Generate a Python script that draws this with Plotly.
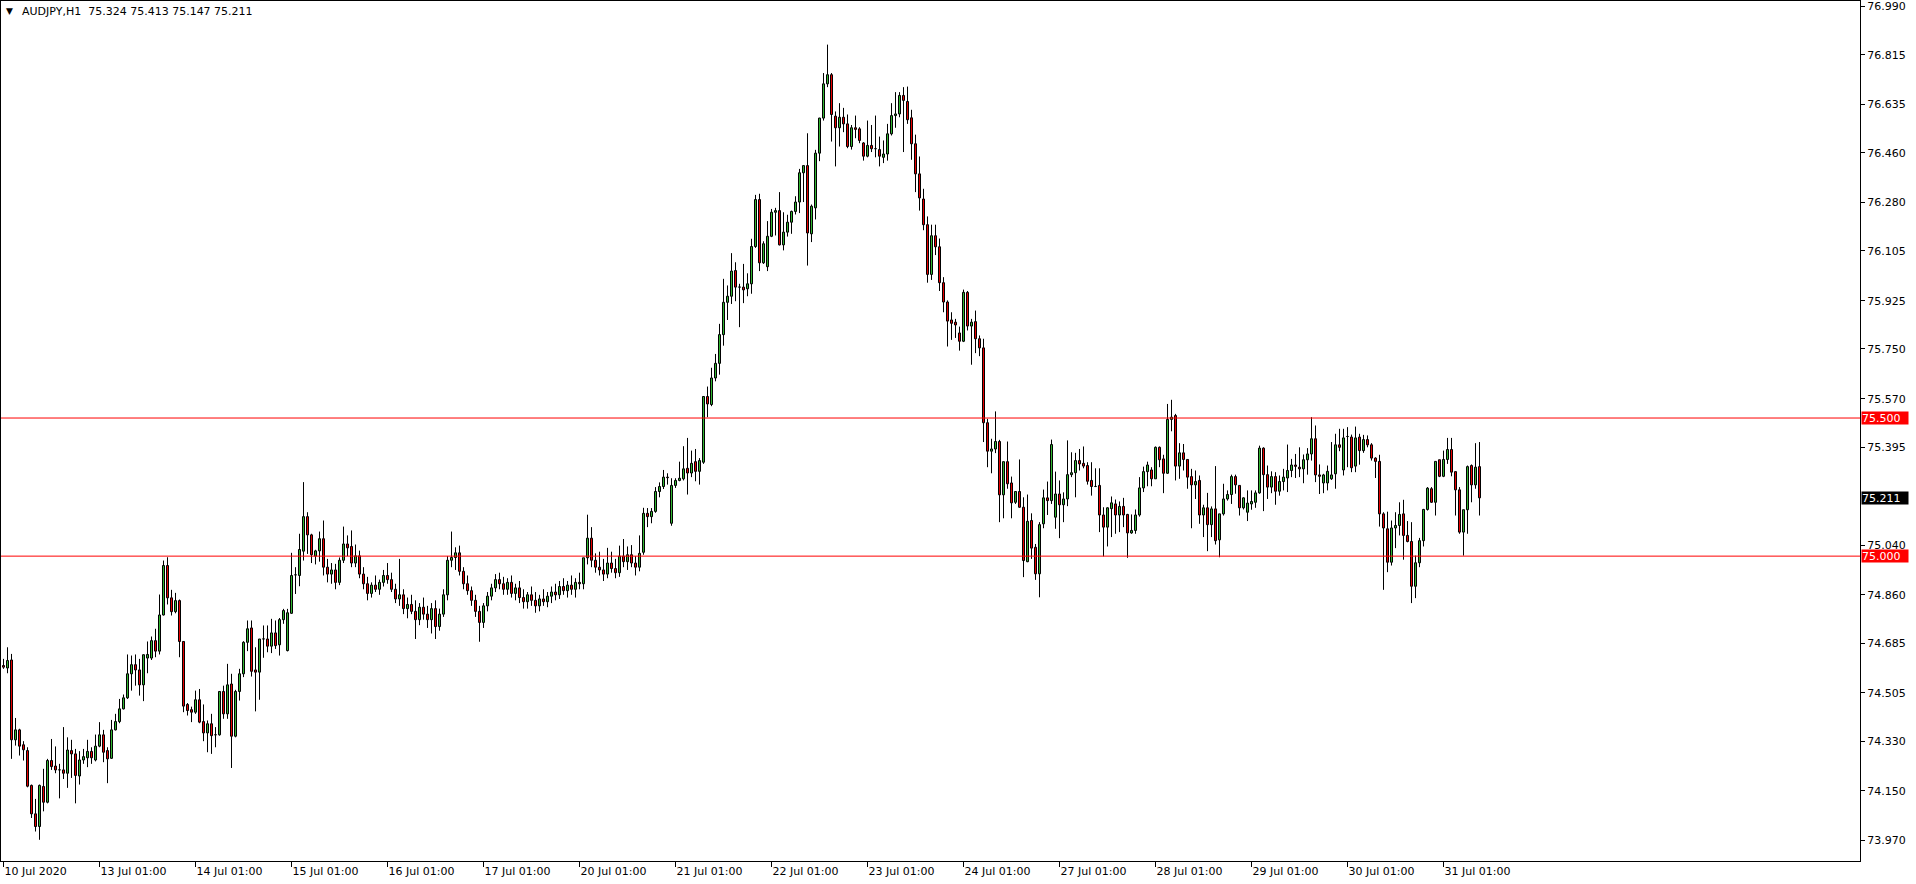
import plotly.graph_objects as go

# ---------------- data (AUDJPY H1) ----------------
opens = [
 74.604,74.595,74.624,74.335,74.371,74.317,74.296,74.170,74.067,74.021,74.166,74.109,74.260,74.240,74.226,74.226,74.214,74.296,74.284,74.204,74.262,74.270,74.293,74.262,
 74.312,74.353,74.296,74.268,74.371,74.401,74.447,74.487,74.574,74.607,74.588,74.534,74.631,74.631,74.694,74.656,74.787,74.966,74.849,74.799,74.839,74.691,74.463,74.444,
 74.435,74.480,74.401,74.360,74.393,74.353,74.353,74.510,74.429,74.537,74.348,74.510,74.574,74.688,74.740,74.588,74.580,74.700,74.700,74.674,74.722,74.679,74.770,74.658,
 74.793,74.932,74.930,75.018,75.143,75.077,75.000,75.019,75.063,74.960,74.935,74.950,74.905,74.985,75.044,75.035,74.975,75.001,74.935,74.900,74.865,74.895,74.880,74.905,
 74.930,74.915,74.880,74.845,74.860,74.810,74.825,74.800,74.770,74.815,74.790,74.770,74.810,74.745,74.790,74.860,74.985,74.995,75.012,74.945,74.900,74.875,74.840,74.800,
 74.760,74.820,74.855,74.885,74.915,74.900,74.880,74.905,74.865,74.885,74.850,74.835,74.860,74.840,74.820,74.845,74.835,74.855,74.870,74.860,74.890,74.875,74.895,74.880,
 74.905,74.900,74.994,75.065,74.985,74.960,74.950,74.935,74.975,74.955,74.940,75.000,74.980,75.005,74.975,74.960,75.014,75.155,75.143,75.162,75.234,75.252,75.286,75.119,
 75.256,75.274,75.280,75.318,75.301,75.342,75.307,75.340,75.578,75.549,75.645,75.698,75.802,75.919,75.941,76.034,75.974,75.974,75.968,75.986,76.121,76.291,76.062,76.048,
 76.158,76.245,76.251,76.127,76.173,76.209,76.248,76.282,76.388,76.414,76.167,76.261,76.459,76.586,76.710,76.743,76.593,76.551,76.589,76.565,76.483,76.551,76.547,76.496,
 76.448,76.487,76.475,76.472,76.444,76.456,76.529,76.595,76.601,76.668,76.646,76.587,76.493,76.384,76.293,76.200,76.020,76.160,76.120,75.990,75.920,75.855,75.847,75.808,
 75.778,75.955,75.833,75.849,75.787,75.754,75.483,75.380,75.388,75.415,75.222,75.342,75.265,75.195,75.234,75.177,74.980,75.129,75.032,74.936,75.117,75.211,75.201,75.141,
 75.225,75.186,75.207,75.295,75.302,75.346,75.336,75.328,75.274,75.252,75.256,75.149,75.105,75.172,75.189,75.149,75.180,75.151,75.084,75.093,75.149,75.247,75.306,75.312,
 75.280,75.394,75.352,75.300,75.495,75.509,75.326,75.374,75.350,75.288,75.258,75.274,75.149,75.175,75.114,75.171,75.059,75.153,75.207,75.223,75.288,75.256,75.175,75.159,
 75.189,75.195,75.229,75.391,75.295,75.250,75.288,75.235,75.270,75.283,75.310,75.330,75.322,75.316,75.349,75.370,75.425,75.294,75.265,75.265,75.280,75.298,75.403,75.312,
 75.433,75.431,75.326,75.431,75.382,75.422,75.403,75.355,75.343,75.153,75.099,74.978,75.102,75.111,75.153,75.075,75.053,74.891,74.976,75.056,75.169,75.244,75.195,75.349,
 75.289,75.350,75.386,75.306,75.240,75.087,75.168,75.328,75.258,75.324,
]
highs = [
 74.628,74.670,74.646,74.414,74.375,74.330,74.308,74.173,74.121,74.173,74.230,74.266,74.338,74.311,74.248,74.381,74.344,74.335,74.302,74.294,74.302,74.335,74.308,74.354,
 74.399,74.371,74.308,74.407,74.429,74.483,74.499,74.644,74.640,74.644,74.628,74.644,74.691,74.709,74.737,74.861,74.984,74.996,74.878,74.867,74.843,74.691,74.468,74.455,
 74.513,74.519,74.463,74.405,74.429,74.381,74.511,74.531,74.610,74.574,74.516,74.592,74.692,74.767,74.767,74.670,74.700,74.749,74.749,74.773,74.767,74.776,74.809,74.809,
 75.012,74.960,75.081,75.268,75.159,75.081,75.023,75.089,75.129,74.990,74.975,74.972,74.995,75.107,75.075,75.093,75.042,75.020,74.960,74.925,74.905,74.930,74.915,74.950,
 74.975,74.940,74.900,74.990,74.880,74.850,74.860,74.840,74.830,74.850,74.820,74.830,74.840,74.810,74.880,75.000,75.089,75.032,75.038,74.960,74.930,74.890,74.860,74.820,
 74.830,74.870,74.900,74.935,74.940,74.925,74.920,74.930,74.900,74.910,74.880,74.870,74.890,74.870,74.860,74.880,74.870,74.890,74.900,74.910,74.920,74.910,74.930,74.920,
 74.940,74.990,75.150,75.105,75.010,75.016,74.990,75.030,75.016,74.990,75.038,75.062,75.035,75.040,75.000,75.075,75.175,75.174,75.174,75.250,75.267,75.312,75.300,75.282,
 75.282,75.342,75.398,75.428,75.382,75.388,75.355,75.578,75.614,75.682,75.732,75.841,76.004,75.980,76.097,76.064,75.986,76.058,76.024,76.149,76.308,76.312,76.140,76.213,
 76.257,76.261,76.318,76.245,76.236,76.251,76.303,76.402,76.414,76.531,76.273,76.471,76.587,76.749,76.852,76.749,76.610,76.640,76.623,76.599,76.561,76.595,76.553,76.499,
 76.577,76.561,76.595,76.519,76.505,76.565,76.640,76.680,76.680,76.698,76.700,76.616,76.526,76.447,76.330,76.230,76.200,76.200,76.150,76.010,75.926,75.883,75.859,75.831,
 75.965,75.960,75.859,75.889,75.799,75.787,75.497,75.425,75.524,75.421,75.342,75.415,75.288,75.234,75.350,75.213,75.223,75.155,75.044,75.123,75.241,75.270,75.422,75.306,
 75.274,75.231,75.419,75.376,75.374,75.388,75.397,75.340,75.340,75.318,75.318,75.177,75.177,75.216,75.205,75.198,75.211,75.153,75.151,75.169,75.286,75.324,75.342,75.322,
 75.397,75.397,75.367,75.551,75.566,75.515,75.409,75.406,75.350,75.316,75.310,75.292,75.186,75.229,75.180,75.326,75.153,75.262,75.238,75.295,75.295,75.256,75.213,75.238,
 75.238,75.238,75.400,75.394,75.328,75.307,75.304,75.292,75.316,75.404,75.352,75.370,75.394,75.368,75.391,75.503,75.473,75.332,75.298,75.328,75.413,75.443,75.461,75.461,
 75.467,75.440,75.469,75.443,75.439,75.437,75.409,75.358,75.367,75.159,75.161,75.129,75.159,75.195,75.204,75.127,75.123,75.002,75.066,75.171,75.250,75.250,75.343,75.349,
 75.382,75.428,75.428,75.306,75.250,75.168,75.328,75.332,75.409,75.413,
]
lows = [
 74.592,74.576,74.266,74.314,74.278,74.260,74.163,74.052,74.003,73.973,74.076,74.105,74.226,74.214,74.123,74.193,74.161,74.197,74.105,74.173,74.248,74.236,74.248,74.257,
 74.308,74.254,74.178,74.266,74.369,74.395,74.445,74.483,74.513,74.531,74.495,74.475,74.576,74.624,74.634,74.644,74.785,74.825,74.785,74.793,74.634,74.435,74.423,74.399,
 74.429,74.395,74.330,74.290,74.284,74.308,74.350,74.411,74.411,74.233,74.344,74.477,74.562,74.656,74.564,74.438,74.480,74.632,74.652,74.649,74.664,74.640,74.755,74.655,
 74.791,74.863,74.891,74.984,75.008,74.975,74.970,74.980,74.930,74.905,74.900,74.880,74.895,74.975,75.000,74.960,74.960,74.920,74.880,74.840,74.850,74.870,74.860,74.890,
 74.900,74.870,74.830,74.820,74.790,74.775,74.790,74.700,74.750,74.770,74.740,74.720,74.700,74.730,74.780,74.840,74.960,74.950,74.930,74.880,74.860,74.820,74.780,74.690,
 74.740,74.800,74.840,74.870,74.880,74.860,74.860,74.850,74.840,74.830,74.810,74.810,74.820,74.795,74.800,74.820,74.815,74.830,74.840,74.845,74.860,74.850,74.860,74.850,
 74.880,74.880,74.970,74.960,74.940,74.930,74.910,74.920,74.940,74.920,74.925,74.960,74.950,74.960,74.930,74.945,75.005,75.105,75.119,75.157,75.213,75.243,75.259,75.110,
 75.247,75.271,75.274,75.223,75.286,75.271,75.259,75.334,75.503,75.543,75.633,75.657,75.762,75.855,75.913,75.923,75.829,75.916,75.941,75.950,76.116,76.032,76.058,76.032,
 76.155,76.161,76.125,76.107,76.157,76.167,76.237,76.242,76.282,76.052,76.137,76.219,76.430,76.577,76.698,76.501,76.411,76.483,76.535,76.477,76.472,76.513,76.495,76.432,
 76.444,76.463,76.444,76.411,76.423,76.432,76.523,76.551,76.589,76.463,76.565,76.435,76.318,76.251,76.180,75.990,76.000,76.090,75.960,75.883,75.759,75.783,75.790,75.744,
 75.775,75.817,75.693,75.735,75.724,75.413,75.322,75.300,75.373,75.123,75.137,75.244,75.137,75.189,75.175,74.924,74.978,74.990,74.914,74.851,75.101,75.149,75.189,75.099,
 75.065,75.123,75.181,75.286,75.213,75.310,75.318,75.259,75.219,75.250,75.087,74.999,75.035,75.069,75.081,75.087,75.105,74.994,75.081,75.081,75.143,75.232,75.253,75.253,
 75.280,75.322,75.228,75.298,75.452,75.274,75.280,75.310,75.244,75.101,75.207,75.117,75.069,75.018,75.069,75.042,74.996,75.147,75.201,75.189,75.226,75.147,75.169,75.127,
 75.168,75.175,75.226,75.163,75.207,75.228,75.186,75.219,75.238,75.232,75.286,75.283,75.286,75.264,75.295,75.346,75.268,75.225,75.228,75.238,75.276,75.244,75.380,75.292,
 75.322,75.304,75.304,75.331,75.374,75.394,75.346,75.283,75.107,74.878,74.942,74.966,75.029,75.075,74.987,75.050,74.830,74.848,74.960,75.035,75.165,75.193,75.147,75.286,
 75.286,75.334,75.289,75.147,75.081,75.002,75.081,75.195,75.244,75.147,
]
closes = [
 74.598,74.622,74.335,74.371,74.312,74.299,74.167,74.067,74.021,74.170,74.109,74.260,74.238,74.226,74.226,74.214,74.298,74.284,74.206,74.262,74.274,74.293,74.270,74.312,
 74.353,74.290,74.266,74.371,74.401,74.447,74.487,74.574,74.607,74.588,74.534,74.643,74.644,74.694,74.656,74.787,74.966,74.849,74.799,74.839,74.691,74.457,74.441,74.435,
 74.480,74.399,74.360,74.393,74.350,74.353,74.510,74.429,74.534,74.348,74.510,74.574,74.688,74.737,74.583,74.580,74.700,74.700,74.674,74.722,74.676,74.770,74.803,74.795,
 74.930,74.932,75.024,75.143,75.077,75.005,75.019,75.063,74.960,74.935,74.950,74.905,74.985,75.044,75.030,74.975,75.001,74.935,74.900,74.865,74.895,74.880,74.905,74.930,
 74.915,74.880,74.845,74.860,74.810,74.825,74.800,74.770,74.815,74.790,74.770,74.810,74.745,74.790,74.860,74.985,74.995,75.012,74.945,74.900,74.875,74.840,74.800,74.760,
 74.820,74.855,74.885,74.915,74.900,74.880,74.905,74.865,74.885,74.850,74.835,74.860,74.840,74.820,74.845,74.835,74.855,74.870,74.860,74.890,74.875,74.895,74.880,74.905,
 74.900,74.994,75.065,74.985,74.960,74.950,74.935,74.975,74.955,74.940,75.000,74.980,75.005,74.975,74.960,75.010,75.155,75.143,75.162,75.234,75.252,75.286,75.284,75.256,
 75.274,75.282,75.316,75.301,75.336,75.307,75.346,75.578,75.551,75.645,75.698,75.802,75.919,75.941,76.032,75.974,75.974,75.964,75.986,76.121,76.291,76.062,76.131,76.158,
 76.245,76.251,76.127,76.173,76.209,76.248,76.282,76.388,76.414,76.170,76.267,76.459,76.586,76.710,76.743,76.599,76.551,76.589,76.565,76.483,76.551,76.545,76.505,76.448,
 76.487,76.475,76.475,76.448,76.456,76.529,76.595,76.601,76.668,76.650,76.580,76.493,76.384,76.297,76.200,76.020,76.160,76.120,75.990,75.920,75.851,75.843,75.837,75.778,
 75.955,75.833,75.847,75.787,75.754,75.483,75.380,75.388,75.415,75.222,75.342,75.262,75.193,75.234,75.177,74.984,75.126,75.029,74.936,75.114,75.211,75.201,75.404,75.225,
 75.186,75.207,75.295,75.302,75.346,75.334,75.326,75.271,75.252,75.252,75.149,75.105,75.175,75.193,75.149,75.180,75.149,75.084,75.093,75.149,75.247,75.306,75.330,75.280,
 75.394,75.349,75.300,75.495,75.503,75.326,75.374,75.350,75.286,75.258,75.270,75.149,75.175,75.114,75.171,75.056,75.153,75.207,75.223,75.288,75.258,75.175,75.211,75.192,
 75.198,75.229,75.391,75.295,75.250,75.288,75.235,75.270,75.286,75.310,75.330,75.325,75.316,75.349,75.370,75.425,75.294,75.289,75.294,75.307,75.294,75.403,75.394,75.428,
 75.433,75.320,75.428,75.382,75.422,75.403,75.355,75.343,75.153,75.102,74.978,75.102,75.111,75.151,75.075,75.053,74.891,74.976,75.056,75.169,75.246,75.195,75.343,75.289,
 75.350,75.386,75.304,75.240,75.087,75.168,75.324,75.258,75.322,75.211,
]

x_tick_bars = [0, 24, 48, 72, 96, 120, 144, 168, 192, 216, 240, 264, 288, 312, 336, 360]
x_tick_labels = ["10 Jul 2020", "13 Jul 01:00", "14 Jul 01:00", "15 Jul 01:00", "16 Jul 01:00",
                 "17 Jul 01:00", "20 Jul 01:00", "21 Jul 01:00", "22 Jul 01:00", "23 Jul 01:00",
                 "24 Jul 01:00", "27 Jul 01:00", "28 Jul 01:00", "29 Jul 01:00", "30 Jul 01:00",
                 "31 Jul 01:00"]
y_tick_values = [76.990, 76.815, 76.635, 76.460, 76.280, 76.105, 75.925, 75.750, 75.570,
                 75.395, 75.040, 74.860, 74.685, 74.505, 74.330, 74.150, 73.970]
level_lines = [75.500, 75.000]
symbol = "AUDJPY,H1"

X_MIN, X_MAX = -0.625, 464.125
Y_MIN, Y_MAX = 73.8962, 77.0099

# ---------------- build marks ----------------
n = len(closes)
idx = list(range(n))
base, height, fill = [], [], []
for o, c in zip(opens, closes):
    lo, hi = min(o, c), max(o, c)
    base.append(lo)
    height.append(max(hi - lo, 0.0004))
    fill.append("#31b531" if c >= o else "#e60000")

wx, wy = [], []
for i, o, h, l, c in zip(idx, opens, highs, lows, closes):
    top, bot = max(o, c), min(o, c)
    if h > top:
        wx += [i, i, None]; wy += [top, h, None]
    if l < bot:
        wx += [i, i, None]; wy += [l, bot, None]

fig = go.Figure()
fig.add_trace(go.Scatter(x=wx, y=wy, mode="lines", line=dict(color="black", width=1),
                         hoverinfo="skip", showlegend=False))
fig.add_trace(go.Bar(x=idx, y=height, base=base, width=0.5,
                     marker=dict(color=fill, line=dict(color="black", width=1)),
                     showlegend=False, hoverinfo="skip"))
# horizontal levels
for lv in level_lines:
    fig.add_trace(go.Scatter(x=[X_MIN, X_MAX], y=[lv, lv], mode="lines",
                             line=dict(color="#ff0000", width=1),
                             hoverinfo="skip", showlegend=False, cliponaxis=True))

FONT = "DejaVu Sans"
fig.update_layout(
    width=1916, height=884,
    margin=dict(l=1, r=56, t=1, b=23),
    paper_bgcolor="white", plot_bgcolor="white",
    barmode="overlay", showlegend=False,
    font=dict(family=FONT, size=11, color="black"),
    xaxis=dict(range=[X_MIN, X_MAX], tickmode="array", tickvals=x_tick_bars,
               ticktext=x_tick_labels, ticks="outside", ticklen=5, tickcolor="black",
               ticklabelposition="outside right", showgrid=False, zeroline=False,
               showline=True, linecolor="black", linewidth=1, mirror=True,
               tickfont=dict(family=FONT, size=11, color="black")),
    yaxis=dict(range=[Y_MIN, Y_MAX], side="right", tickmode="array",
               tickvals=y_tick_values, tickformat=".3f", ticks="outside", ticklen=4,
               tickcolor="black", showgrid=False, zeroline=False, showline=True,
               linecolor="black", linewidth=1, mirror=True, ticklabeloverflow="allow",
               tickfont=dict(family=FONT, size=11, color="black")),
)

# header text
fig.add_annotation(xref="paper", yref="paper", x=0, y=1, xanchor="left", yanchor="top",
                   xshift=3, yshift=-3, text="▼", showarrow=False,
                   font=dict(family=FONT, size=9, color="black"))
fig.add_annotation(xref="paper", yref="paper", x=0, y=1, xanchor="left", yanchor="top",
                   xshift=19, yshift=-2,
                   text=symbol + "\u00a0\u00a0" + " ".join(f"{v:.3f}" for v in
                        (opens[-1], highs[-1], lows[-1], closes[-1])),
                   showarrow=False, font=dict(family=FONT, size=11, color="black"))

# price tags on the axis
tags = [(75.500, "#ff0000"), (75.000, "#ff0000"), (closes[-1], "#000000")]
for val, col in tags:
    fig.add_annotation(xref="paper", yref="y", x=1, y=val, xanchor="left", yanchor="middle",
                       xshift=1, text=f"{val:.3f}", showarrow=False, bgcolor=col,
                       width=46, height=12, align="left", borderpad=0,
                       font=dict(family=FONT, size=11, color="white"))

fig.write_html("out.html", config={"displayModeBar": False},
               post_script="document.body.style.margin='0';document.body.style.overflow='hidden';")
